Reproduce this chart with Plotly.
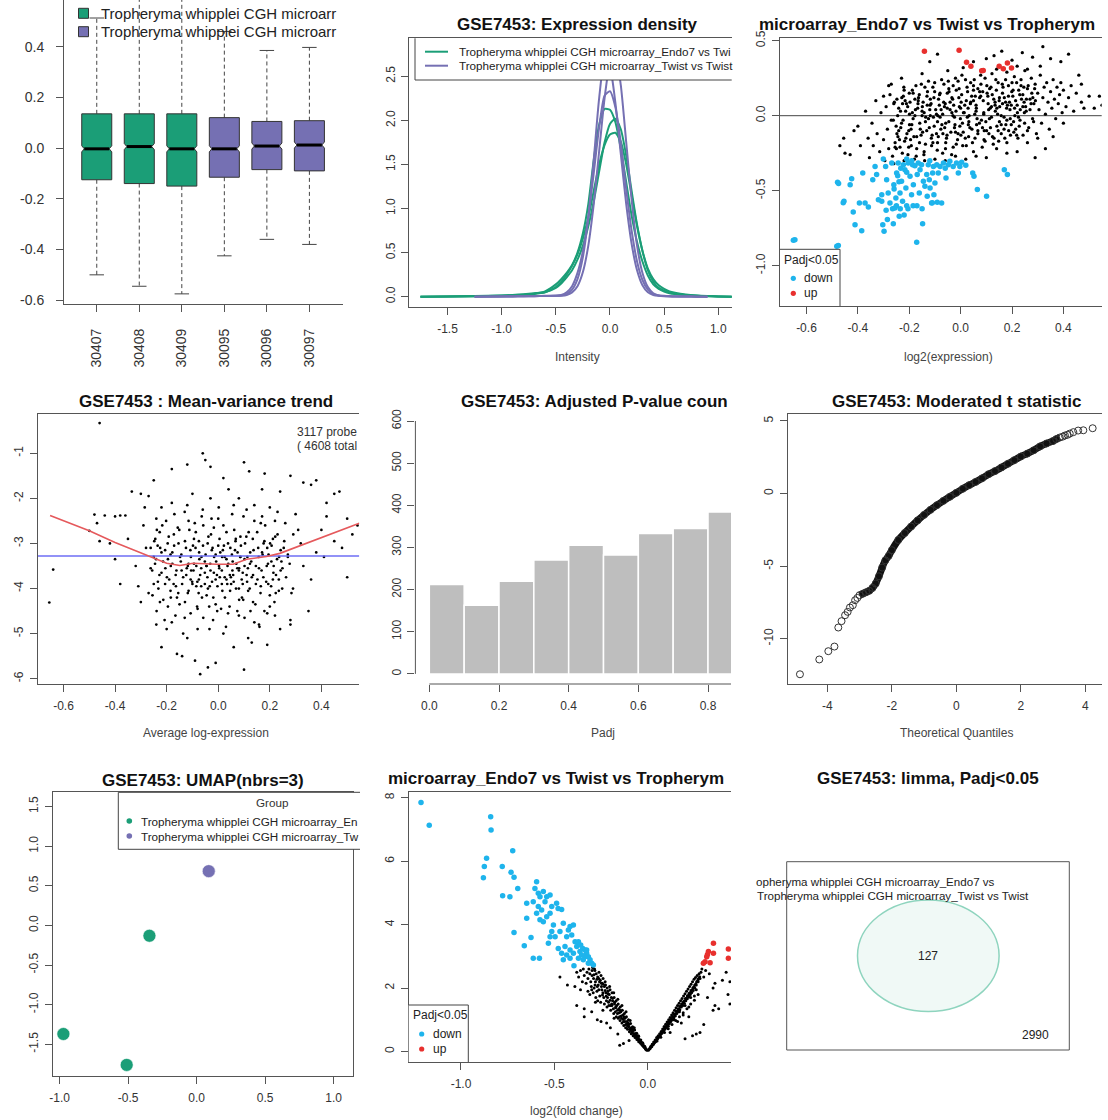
import plotly.graph_objects as go

W, H = 1108, 1120
FONT = "Liberation Sans, Arial, Helvetica, sans-serif"
GREEN, PURPLE = "#1B9E77", "#7570B3"
BLUE, RED = "#1EB4EC", "#E8302E"
AXC, TICKC, TXT = "#555555", "#333333", "#111111"

# ---------------- data ----------------
SAMPLES = ["30407", "30408", "30409", "30095", "30096", "30097"]
SAMPLE_GROUP = [0, 0, 0, 1, 1, 1]
BOX_Q1 = [-0.125, -0.14, -0.15, -0.115, -0.085, -0.09]
BOX_MED = [-0.003, 0.006, -0.003, -0.003, 0.008, 0.012]
BOX_Q3 = [0.135, 0.135, 0.135, 0.12, 0.105, 0.108]
BOX_LO = [-0.50, -0.545, -0.575, -0.425, -0.36, -0.38]
BOX_HI = [0.513, 0.63, 0.63, 0.46, 0.385, 0.397]
BOX_YTICKS = [-0.6, -0.4, -0.2, 0.0, 0.2, 0.4]

DENS_X = [-1.75, -1.5, -1.25, -1.0, -0.9, -0.8, -0.7, -0.6, -0.5, -0.45, -0.4, -0.35, -0.3, -0.25,
          -0.2, -0.15, -0.1, -0.05, 0.0, 0.05, 0.1, 0.15, 0.2, 0.25, 0.3, 0.35, 0.4, 0.45, 0.5, 0.55,
          0.6, 0.7, 0.8, 0.9, 1.0, 1.15]
DENS_G1 = [0.0, 0.003, 0.006, 0.012, 0.016, 0.022, 0.035, 0.06, 0.14, 0.2, 0.27, 0.36, 0.5, 0.72, 1.05, 1.55,
           1.95, 2.13, 2.12, 1.98, 1.68, 1.3, 0.92, 0.62, 0.4, 0.24, 0.14, 0.09, 0.06, 0.04, 0.03, 0.018,
           0.01, 0.006, 0.003, 0.0]
DENS_G2 = [0.0, 0.002, 0.005, 0.01, 0.014, 0.02, 0.03, 0.05, 0.1, 0.15, 0.22, 0.3, 0.42, 0.58, 0.8, 1.08,
           1.42, 1.75, 1.96, 2.02, 1.9, 1.6, 1.2, 0.82, 0.52, 0.3, 0.17, 0.1, 0.07, 0.05, 0.035, 0.02,
           0.012, 0.007, 0.003, 0.0]
DENS_G3 = [0.0, 0.004, 0.008, 0.015, 0.02, 0.028, 0.04, 0.05, 0.11, 0.17, 0.25, 0.35, 0.48, 0.66, 0.9, 1.2,
           1.5, 1.72, 1.84, 1.86, 1.76, 1.5, 1.15, 0.8, 0.52, 0.32, 0.2, 0.13, 0.09, 0.06, 0.045, 0.025,
           0.014, 0.008, 0.004, 0.0]
DENS_P1 = [None, None, 0.0, 0.004, 0.005, 0.006, 0.008, 0.01, 0.012, 0.02, 0.05, 0.12, 0.27, 0.52, 0.9, 1.4,
           1.92, 2.28, 2.33, 2.15, 1.75, 1.22, 0.75, 0.4, 0.19, 0.08, 0.03, 0.015, 0.01, 0.007, 0.005,
           0.003, 0.001, 0.0, None, None]
DENS_P2 = [None, None, 0.0, 0.003, 0.004, 0.005, 0.006, 0.008, 0.01, 0.015, 0.03, 0.08, 0.2, 0.45, 0.9, 1.55,
           2.25, 2.68, 2.6, 2.2, 1.62, 1.05, 0.6, 0.3, 0.13, 0.05, 0.02, 0.01, 0.006, 0.004, 0.003,
           0.002, 0.001, 0.0, None, None]
DENS_P3 = [None, None, 0.0, 0.003, 0.004, 0.005, 0.006, 0.008, 0.01, 0.012, 0.02, 0.05, 0.12, 0.28, 0.58,
           1.05, 1.65, 2.25, 2.65, 2.75, 2.4, 1.75, 1.1, 0.58, 0.27, 0.11, 0.04, 0.015, 0.008, 0.005,
           0.003, 0.002, 0.001, 0.0, None, None]
DENS_SERIES = [DENS_G1, DENS_G2, DENS_G3, DENS_P1, DENS_P2, DENS_P3]

# MA plot: (A, M)
MA_BG = [(-0.248,-0.12),(-0.241,0.05),(-0.236,-0.21),(-0.229,0.12),(-0.224,-0.03),(-0.218,-0.17),(-0.211,0.08),
 (-0.205,-0.26),(-0.199,0.01),(-0.193,-0.09),(-0.188,0.17),(-0.182,-0.14),(-0.176,0.04),(-0.171,-0.22),(-0.165,0.10),
 (-0.159,-0.05),(-0.153,0.21),(-0.148,-0.11),(-0.142,0.02),(-0.137,-0.19),(-0.131,0.13),(-0.125,-0.02),(-0.119,0.07),
 (-0.114,-0.15),(-0.108,0.19),(-0.103,-0.07),(-0.097,0.04),(-0.091,-0.23),(-0.086,0.11),(-0.080,-0.01),(-0.074,0.24),
 (-0.069,-0.12),(-0.063,0.06),(-0.058,-0.18),(-0.052,0.15),(-0.046,-0.04),(-0.041,0.09),(-0.035,-0.26),(-0.029,0.20),
 (-0.024,-0.08),(-0.018,0.03),(-0.012,-0.16),(-0.007,0.12),(-0.001,-0.02),(0.005,0.27),(0.010,-0.11),(0.016,0.07),
 (0.022,-0.20),(0.027,0.16),(0.033,0.00),(0.039,0.22),(0.044,-0.09),(0.050,0.10),(0.056,-0.15),(0.061,0.05),
 (0.067,0.18),(0.073,-0.05),(0.078,0.13),(0.084,-0.21),(0.090,0.02),(0.095,0.25),(0.101,-0.10),(0.107,0.08),
 (0.112,-0.02),(0.118,0.19),(0.124,-0.14),(0.129,0.11),(0.135,0.03),(0.141,-0.07),(0.146,0.22),(0.152,0.06),
 (0.158,-0.12),(0.163,0.15),(0.169,-0.01),(0.175,0.09),(0.180,-0.18),(0.186,0.20),(0.192,0.04),(0.197,-0.06),
 (0.203,0.13),(0.209,0.26),(0.214,-0.09),(0.220,0.07),(0.226,0.17),(0.231,-0.03),(0.237,0.11),(0.243,-0.13),
 (0.248,0.02),(-0.245,0.00),(-0.233,-0.08),(-0.221,0.19),(-0.209,-0.12),(-0.197,0.09),(-0.185,-0.02),(-0.173,-0.27),
 (-0.161,0.14),(-0.149,0.06),(-0.137,-0.04),(-0.125,0.23),(-0.113,-0.20),(-0.101,0.16),(-0.089,0.00),(-0.077,-0.09),
 (-0.065,0.21),(-0.053,-0.13),(-0.041,0.04),(-0.029,-0.21),(-0.017,0.17),(-0.005,0.06),(0.007,-0.05),(0.019,0.24),
 (0.031,-0.14),(0.043,0.13),(0.055,0.01),(0.067,-0.10),(0.079,0.21),(0.091,-0.16),(0.103,0.15),(0.115,0.05),
 (0.127,-0.19),(0.139,0.17),(0.151,-0.04),(0.163,0.08),(0.175,0.24),(0.187,-0.10),(0.199,0.16),(0.211,0.00),
 (0.223,-0.15),(0.235,0.20),(0.247,0.09),(-0.238,-0.16),(-0.214,0.03),(-0.190,-0.06),(-0.166,0.08),(-0.142,-0.24),
 (-0.118,0.11),(-0.094,-0.12),(-0.070,0.01),(-0.046,0.18),(-0.022,-0.06),(0.002,0.09),(0.026,-0.01),(0.050,-0.24),
 (0.074,0.12),(0.098,-0.04),(0.122,0.28),(0.146,-0.10),(0.170,0.12),(0.194,-0.13),(0.218,0.22),(0.242,0.06),
 (-0.226,0.08),(-0.202,-0.21),(-0.178,0.11),(-0.154,-0.13),(-0.130,0.07),(-0.106,-0.01),(-0.082,0.14),(-0.058,-0.05),
 (-0.034,0.12),(-0.010,-0.12),(0.014,0.02),(0.038,0.08),(0.062,-0.06),(0.086,0.16),(0.110,-0.12),(0.134,0.09),
 (0.158,0.00),(0.182,0.07),(0.206,-0.04),(0.230,0.14),
 (-0.47,-0.20),(-0.455,-0.15),(-0.45,-0.25),(-0.43,-0.26),(-0.415,-0.10),(-0.40,-0.07),(-0.39,-0.20),(-0.37,0.03),
 (-0.36,-0.15),(-0.355,-0.28),(-0.345,-0.05),(-0.34,-0.20),(-0.33,0.10),(-0.325,-0.12),(-0.315,-0.24),(-0.31,0.02),
 (-0.30,-0.16),(-0.295,-0.30),(-0.29,0.06),(-0.285,-0.09),(-0.28,-0.22),(-0.275,0.14),(-0.27,-0.03),(-0.265,-0.27),
 (-0.26,0.08),(-0.255,-0.18),(-0.28,0.20),(-0.30,0.13),(-0.26,-0.32),(-0.22,-0.30),(-0.18,-0.29),(-0.14,-0.30),
 (-0.10,-0.29),(-0.06,-0.30),(-0.02,-0.27),(0.02,-0.29),(0.06,-0.27),(0.10,-0.28),(0.14,-0.22),(0.18,-0.25),
 (0.22,-0.24),(0.26,-0.18),(0.30,-0.15),
 (0.255,0.03),(0.26,0.18),(0.265,-0.08),(0.27,0.11),(0.275,0.25),(0.28,-0.02),(0.285,0.08),(0.29,0.21),
 (0.295,-0.12),(0.30,0.15),(0.305,0.04),(0.31,0.27),(0.315,-0.05),(0.32,0.12),(0.325,0.19),(0.33,0.01),
 (0.335,0.22),(0.34,0.09),(0.345,-0.09),(0.35,0.16),(0.355,0.05),(0.36,0.24),(0.365,0.11),(0.37,-0.02),
 (0.375,0.19),(0.38,0.08),(0.385,0.14),(0.39,0.22),(0.395,0.02),(0.40,0.17),(0.41,0.06),(0.42,0.12),
 (0.43,0.20),(0.44,0.03),(0.45,0.15),(0.46,0.27),(0.47,0.09),(0.48,0.05),(0.50,0.13),(0.52,0.05),(0.54,0.13),
 (0.55,0.07),(0.47,0.21),(0.42,0.41),(0.39,0.36),(0.35,0.38),(0.32,0.46),(0.28,0.39),(0.24,0.42),(0.20,0.37),
 (0.16,0.43),(0.13,0.40),(0.10,0.38),(0.05,0.36),(-0.09,0.41),(-0.12,0.36),(-0.20,0.15),(-0.23,0.25),(-0.27,0.21),
 (0.31,0.33),(0.26,0.31),(0.22,0.33),(0.18,0.29),(0.14,0.31),(0.33,-0.22),(0.36,-0.14),(0.40,-0.05),(0.29,-0.28),
 (0.25,0.30),(0.08,0.30),(0.01,0.32),(-0.05,0.30),(-0.15,0.28),(-0.25,-0.22),
 (-0.262,-0.03),(-0.255,-0.21),(-0.248,0.11),(-0.241,-0.10),(-0.234,0.03),(-0.227,-0.25),(-0.220,0.17),
 (-0.213,-0.15),(-0.206,0.06),(-0.199,-0.06),(-0.192,-0.20),(-0.185,0.15),(-0.178,0.00),(-0.171,-0.14),
 (-0.164,0.12),(-0.157,-0.09),(-0.150,0.03),(-0.143,-0.26),(-0.136,-0.01),(-0.129,0.16),(-0.122,-0.08),
 (-0.115,0.08),(-0.108,-0.18),(-0.101,0.22),(-0.094,0.01),(-0.087,-0.14),(-0.080,0.15),(-0.073,-0.06),
 (-0.066,0.09),(-0.059,-0.22),(-0.052,0.05),(-0.045,0.16),(-0.038,-0.11),(-0.031,0.11),(-0.024,-0.01),
 (-0.017,-0.19),(-0.010,0.23),(-0.003,-0.07),(0.004,0.14),(0.011,0.02),(0.018,-0.15),(0.025,0.19),(0.032,-0.04),
 (0.039,0.09),(0.046,-0.18),(0.053,0.24),(0.060,0.03),(0.067,-0.12),(0.074,0.16),(0.081,-0.03),(0.088,0.10),
 (0.095,-0.17),(0.102,0.20),(0.109,0.04),(0.116,-0.08),(0.123,0.14),(0.130,-0.15),(0.137,0.24),(0.144,0.01),
 (0.151,0.12),(0.158,-0.06),(0.165,0.19),(0.172,-0.15),(0.179,0.05),(0.186,0.13),(0.193,-0.02),(0.200,0.22),
 (0.207,-0.11),(0.214,0.10),(0.221,0.02),(0.228,-0.07),(0.235,0.24),(0.242,0.14),(0.249,-0.05),(0.256,0.11),
 (0.263,0.20),(0.270,0.04),(0.277,0.15),(0.284,-0.04),(0.291,0.10),
 (-0.258,0.09),(-0.244,-0.14),(-0.230,-0.05),(-0.216,0.10),(-0.202,-0.10),(-0.188,0.02),(-0.174,0.20),
 (-0.160,-0.18),(-0.146,0.09),(-0.132,-0.10),(-0.118,0.00),(-0.104,0.12),(-0.090,-0.18),(-0.076,0.04),
 (-0.062,-0.08),(-0.048,0.23),(-0.034,0.02),(-0.020,-0.11),(-0.006,0.18),(0.008,-0.20),(0.022,0.10),
 (0.036,-0.08),(0.050,0.17),(0.064,-0.02),(0.078,0.27),(0.092,-0.10),(0.106,0.13),(0.120,-0.01),(0.134,0.07),
 (0.148,-0.17),(0.162,0.21),(0.176,-0.06),(0.190,0.09),(0.204,0.17),(0.218,-0.13),(0.232,0.04),(0.246,0.19),
 (0.260,-0.10),(0.274,0.08),(0.288,0.18),(-0.251,-0.07),(-0.223,0.13),(-0.195,-0.16),(-0.167,0.05),(-0.139,0.19),
 (-0.111,-0.13),(-0.083,0.07),(-0.055,-0.15),(-0.027,0.07),(0.001,-0.13),(0.029,0.05),(0.057,0.13),(0.085,-0.08),
 (0.113,0.18),(0.141,0.05),(0.169,-0.09),(0.197,0.07),(0.225,-0.01),(0.253,0.06),(0.281,0.12),
 (-0.15,0.00),(-0.12,0.04),(-0.09,-0.04),(-0.06,0.08),(-0.03,0.00),(0.00,0.05),(0.03,-0.06),(0.06,0.07),
 (0.09,0.01),(0.12,0.06),(0.15,0.10),(0.18,-0.03),(0.21,0.05),(0.05,0.20),(-0.02,0.25),(-0.07,-0.25)]
MA_DOWN = [(-0.651,-0.831),(-0.645,-0.827),(-0.482,-0.871),(-0.476,-0.866),(-0.479,-0.444),(-0.475,-0.452),
 (-0.457,-0.58),(-0.454,-0.57),(-0.424,-0.42),(-0.43,-0.46),(-0.418,-0.642),(-0.411,-0.727),(-0.394,-0.582),
 (-0.385,-0.767),(-0.381,-0.382),(-0.372,-0.582),(-0.359,-0.609),(-0.342,-0.427),(-0.333,-0.338),(-0.327,-0.393),
 (-0.307,-0.527),(-0.307,-0.571),(-0.303,-0.727),(-0.301,-0.289),(-0.298,-0.771),(-0.292,-0.338),(-0.288,-0.427),
 (-0.285,-0.693),(-0.282,-0.516),(-0.275,-0.582),(-0.268,-0.316),(-0.262,-0.72),(-0.259,-0.489),(-0.256,-0.616),
 (-0.252,-0.549),(-0.249,-0.382),(-0.243,-0.316),(-0.239,-0.671),(-0.236,-0.516),(-0.23,-0.438),(-0.226,-0.571),
 (-0.223,-0.327),(-0.22,-0.662),(-0.217,-0.36),(-0.213,-0.482),(-0.21,-0.289),(-0.204,-0.316),(-0.197,-0.404),
 (-0.191,-0.527),(-0.187,-0.327),(-0.184,-0.46),(-0.178,-0.333),(-0.171,-0.844),(-0.169,-0.393),(-0.165,-0.316),
 (-0.161,-0.516),(-0.158,-0.36),(-0.152,-0.327),(-0.148,-0.72),(-0.145,-0.438),(-0.139,-0.471),(-0.132,-0.393),
 (-0.13,-0.538),(-0.126,-0.327),(-0.122,-0.427),(-0.119,-0.482),(-0.113,-0.582),(-0.109,-0.382),(-0.106,-0.338),
 (-0.104,-0.527),(-0.1,-0.449),(-0.093,-0.327),(-0.091,-0.578),(-0.087,-0.382),(-0.08,-0.338),(-0.074,-0.582),
 (-0.067,-0.316),(-0.057,-0.416),(-0.048,-0.327),(-0.042,-0.304),(-0.029,-0.338),(-0.016,-0.316),(-0.009,-0.382),
 (-0.003,-0.338),(0.004,-0.311),(0.047,-0.382),(0.052,-0.404),(0.065,-0.493),(0.101,-0.538),(0.17,-0.36),
 (0.182,-0.393),(-0.233,-0.350),(-0.210,-0.378),(-0.245,-0.400),(-0.190,-0.300),(-0.240,-0.440),(-0.260,-0.460),
 (-0.210,-0.600),(-0.185,-0.600),(-0.290,-0.630),(-0.250,-0.600),(-0.205,-0.620),(-0.235,-0.620),(-0.170,-0.600),
 (-0.150,-0.620),(-0.110,-0.580),(-0.320,-0.560),(-0.265,-0.620),(-0.120,-0.300),(-0.060,-0.350),(0.020,-0.330)]
MA_UP = [(-0.141,0.429),(-0.006,0.436),(0.023,0.356),(0.04,0.329),(0.082,0.30),(0.088,0.302),(0.15,0.329),
 (0.166,0.313),(0.182,0.351),(0.198,0.318)]

# Mean-variance trend: (average log-expression, log2 sigma)
MV_BG = [(-0.262,-3.1),(-0.250,-3.9),(-0.238,-2.7),(-0.226,-4.3),(-0.214,-3.4),(-0.202,-2.5),(-0.190,-3.8),
 (-0.178,-3.2),(-0.166,-4.6),(-0.154,-3.0),(-0.142,-3.6),(-0.130,-2.3),(-0.118,-4.1),(-0.106,-3.3),(-0.094,-2.9),
 (-0.082,-4.4),(-0.070,-3.7),(-0.058,-2.6),(-0.046,-3.5),(-0.034,-4.9),(-0.022,-3.1),(-0.010,-3.8),(0.002,-2.2),
 (0.014,-3.6),(0.026,-4.2),(0.038,-3.0),(0.050,-3.9),(0.062,-2.7),(0.074,-4.5),(0.086,-3.3),(0.098,-2.4),
 (0.110,-3.7),(0.122,-4.0),(0.134,-2.9),(0.146,-3.5),(0.158,-4.8),(0.170,-3.2),(0.182,-2.6),(0.194,-3.9),
 (0.206,-3.4),(0.218,-4.3),(0.230,-2.8),(0.242,-3.6),(0.254,-3.1),
 (-0.256,-3.6),(-0.244,-2.9),(-0.232,-4.0),(-0.220,-3.2),(-0.208,-4.7),(-0.196,-3.0),(-0.184,-3.5),(-0.172,-2.8),
 (-0.160,-4.2),(-0.148,-3.3),(-0.136,-5.0),(-0.124,-3.7),(-0.112,-2.7),(-0.100,-3.9),(-0.088,-3.1),(-0.076,-4.1),
 (-0.064,-2.4),(-0.052,-3.4),(-0.040,-4.0),(-0.028,-2.8),(-0.016,-3.3),(-0.004,-4.5),(0.008,-3.2),(0.020,-2.6),
 (0.032,-3.8),(0.044,-4.4),(0.056,-3.4),(0.068,-2.9),(0.080,-3.6),(0.092,-4.2),(0.104,-3.0),(0.116,-5.1),
 (0.128,-3.4),(0.140,-2.5),(0.152,-3.8),(0.164,-4.1),(0.176,-3.0),(0.188,-3.5),(0.200,-4.4),(0.212,-2.9),
 (0.224,-3.7),(0.236,-3.3),(0.248,-4.0),
 (-0.250,-3.3),(-0.228,-3.7),(-0.206,-3.9),(-0.184,-4.2),(-0.162,-3.6),(-0.140,-3.9),(-0.118,-3.5),(-0.096,-3.6),
 (-0.074,-3.2),(-0.052,-3.9),(-0.030,-3.6),(-0.008,-3.4),(0.014,-3.9),(0.036,-3.5),(0.058,-3.7),(0.080,-4.0),
 (0.102,-3.5),(0.124,-3.2),(0.146,-3.9),(0.168,-3.6),(0.190,-3.1),(0.212,-3.8),(-0.239,-4.5),(-0.217,-2.6),
 (-0.195,-4.4),(-0.173,-3.9),(-0.151,-2.7),(-0.129,-4.3),(-0.107,-3.8),(-0.085,-3.5),(-0.063,-4.2),(-0.041,-3.0),
 (-0.019,-4.2),(0.003,-3.5),(0.025,-3.3),(0.047,-3.1),(0.069,-4.0),(0.091,-3.8),(0.113,-3.3),(0.135,-4.3),
 (0.157,-3.3),(0.179,-4.5),(0.201,-3.0),(0.223,-4.1),
 (-0.115,-3.45),(-0.098,-3.05),(-0.081,-3.85),(-0.066,-3.55),(-0.049,-3.25),(-0.033,-3.95),(-0.017,-3.65),
 (0.000,-3.05),(0.016,-4.05),(0.032,-3.35),(0.049,-3.75),(0.065,-3.15),(0.081,-3.55),(0.097,-4.25),(0.112,-3.85),
 (-0.107,-4.55),(-0.091,-2.55),(-0.075,-2.95),(-0.058,-4.65),(-0.042,-3.75),(-0.026,-2.45),(-0.010,-4.35),
 (0.006,-3.75),(0.022,-3.05),(0.038,-4.55),(0.054,-2.35),(0.070,-3.45),(0.086,-2.85),(0.102,-4.65),(0.118,-2.75),
 (-0.46,-0.33),(-0.655,-4.31),(-0.50,-2.72),(-0.48,-2.36),(-0.47,-2.55),(-0.46,-2.95),(-0.44,-2.38),(-0.40,-2.40),
 (-0.38,-2.38),(-0.36,-2.38),(-0.335,-1.85),(-0.30,-1.90),(-0.35,-2.9),(-0.40,-3.35),(-0.38,-3.90),(-0.42,-3.0),
 (-0.64,-3.58),(-0.32,-3.5),(-0.31,-3.95),(-0.30,-4.3),(-0.29,-2.6),(-0.28,-3.1),(-0.27,-4.1),(-0.285,-2.2),
 (-0.27,-1.95),(-0.25,-1.6),(-0.18,-1.35),(-0.12,-1.25),(-0.06,-1.0),(-0.05,-1.15),(-0.03,-1.3),(0.02,-1.55),
 (0.10,-1.2),(0.12,-1.4),(0.17,-1.8),(0.18,-1.45),(0.24,-1.85),(0.28,-1.5),(0.33,-1.65),(0.36,-1.7),(0.38,-1.6),
 (0.42,-2.1),(0.45,-1.9),(0.47,-1.85),(0.50,-2.45),(0.52,-2.8),(0.54,-2.6),(0.48,-3.1),(0.45,-2.95),(0.42,-2.4),
 (0.40,-2.7),(0.38,-3.2),(0.36,-3.8),(0.35,-4.5),(0.41,-3.3),(0.50,-3.75),(0.30,-2.35),(0.32,-3.0),(0.33,-3.5),
 (0.29,-4.0),(0.28,-4.7),(0.27,-3.3),(0.26,-2.55),(0.31,-2.7),(-0.22,-5.3),(-0.16,-5.45),(-0.14,-5.5),(-0.09,-5.6),
 (-0.04,-5.75),(-0.01,-5.65),(0.10,-5.8),(0.06,-5.3),(0.19,-5.25),(-0.07,-5.9),(-0.20,-4.9),(0.16,-4.85),
 (0.22,-4.6),(0.24,-4.9),(-0.24,-4.8),(0.28,-4.8),(-0.12,-5.1),(0.02,-5.0),(0.13,-5.2),(-0.18,-2.1),(-0.10,-1.9),
 (-0.03,-2.0),(0.04,-1.8),(0.08,-2.0),(0.14,-2.15),(0.20,-2.2),(0.22,-2.5),(-0.22,-2.2),(-0.24,-2.45),
 (-0.262,-3.55),(-0.255,-4.15),(-0.248,-2.95),(-0.241,-3.35),(-0.234,-3.85),(-0.227,-2.75),(-0.220,-3.65),
 (-0.213,-4.25),(-0.206,-3.15),(-0.199,-3.75),(-0.192,-2.85),(-0.185,-4.05),(-0.178,-3.45),(-0.171,-3.05),
 (-0.164,-3.95),(-0.157,-2.65),(-0.150,-4.35),(-0.143,-3.25),(-0.136,-3.75),(-0.129,-2.95),(-0.122,-3.55),
 (-0.115,-4.05),(-0.108,-3.15),(-0.101,-3.85),(-0.094,-3.45),(-0.087,-2.75),(-0.080,-4.45),(-0.073,-3.35),
 (-0.066,-3.95),(-0.059,-3.05),(-0.052,-3.65),(-0.045,-4.15),(-0.038,-2.85),(-0.031,-3.45),(-0.024,-3.85),
 (-0.017,-2.65),(-0.010,-3.25),(-0.003,-3.95),(0.004,-3.55),(0.011,-4.45),(0.018,-3.15),(0.025,-3.75),
 (0.032,-2.75),(0.039,-3.45),(0.046,-4.05),(0.053,-3.25),(0.060,-3.85),(0.067,-2.95),(0.074,-3.55),(0.081,-4.25),
 (0.088,-3.05),(0.095,-3.65),(0.102,-3.35),(0.109,-2.85),(0.116,-4.05),(0.123,-3.45),(0.130,-3.75),(0.137,-3.15),
 (0.144,-4.35),(0.151,-2.75),(0.158,-3.55),(0.165,-3.95),(0.172,-3.25),(0.179,-2.95),(0.186,-3.85),(0.193,-3.45),
 (0.200,-4.15),(0.207,-3.05),(0.214,-3.65),(0.221,-2.85),(0.228,-3.35),(0.235,-4.05),(0.242,-3.15),(0.249,-3.55),
 (0.256,-2.95),(0.263,-3.75),(0.270,-3.25),(0.277,-3.45),(0.284,-4.1),(0.291,-2.8),
 (-0.245,-3.45),(-0.225,-3.10),(-0.205,-3.55),(-0.185,-3.25),(-0.165,-3.70),(-0.145,-3.40),(-0.125,-3.10),
 (-0.105,-3.60),(-0.085,-3.95),(-0.065,-3.30),(-0.045,-3.50),(-0.025,-3.15),(-0.005,-3.70),(0.015,-3.30),
 (0.035,-3.90),(0.055,-3.60),(0.075,-3.20),(0.095,-3.90),(0.115,-3.55),(0.135,-3.70),(0.155,-3.10),(0.175,-3.75),
 (0.195,-3.25),(0.215,-3.50),(0.235,-3.80),(-0.235,-3.05),(-0.195,-3.35),(-0.155,-4.10),(-0.115,-2.50),
 (-0.075,-3.80),(-0.035,-4.40),(0.005,-2.90),(0.045,-3.70),(0.085,-3.30),(0.125,-4.50),(0.165,-2.55),(0.205,-3.95),
 (0.245,-3.40),(-0.18,-4.75),(-0.13,-4.65),(-0.08,-4.90),(-0.02,-4.70),(0.03,-4.85),(0.08,-4.60),(0.14,-4.75),
 (0.19,-4.55),(-0.17,-2.35),(-0.12,-2.15),(-0.06,-2.25),(0.00,-2.45),(0.06,-2.15),(0.11,-2.25),(0.17,-2.40),
 (0.23,-2.30)]
MV_TREND_X = [-0.652, -0.5, -0.4, -0.291, -0.2, -0.149, -0.097, -0.006, 0.058, 0.11, 0.187, 0.239, 0.394, 0.547]
MV_TREND_Y = [-2.38, -2.72, -2.98, -3.24, -3.44, -3.49, -3.44, -3.46, -3.46, -3.35, -3.29, -3.22, -2.89, -2.55]
MV_PRIOR = -3.28
MV_NOTE = ["3117 probe", "( 4608 total"]

HIST_LEFT = [0.0, 0.1, 0.2, 0.3, 0.4, 0.5, 0.6, 0.7, 0.8]
HIST_COUNTS = [212, 163, 220, 270, 305, 282, 333, 345, 384]

QQ_THEO = [-4.85, -4.25, -3.97, -3.78, -3.66, -3.56, -3.45, -3.37, -3.30, -3.21, -3.14, -3.07, -3.0,
           -2.9, -2.8, -2.7, -2.6, -2.5, -2.4, -2.3, -2.2, -2.1, -2.0, -1.8, -1.6, -1.4, -1.2, -1.0, -0.8,
           -0.6, -0.4, -0.2, 0.0, 0.2, 0.4, 0.6, 0.8, 1.0, 1.2, 1.4, 1.6, 1.8, 2.0, 2.2, 2.4, 2.6, 2.8,
           3.0, 3.1, 3.21, 3.3, 3.37, 3.45, 3.52, 3.63, 3.78, 3.94, 4.23]
QQ_SAMPLE = [-12.45, -11.43, -10.86, -10.54, -9.23, -8.79, -8.38, -8.15, -7.85, -7.69, -7.35, -7.19, -7.0,
             -6.9, -6.8, -6.7, -6.5, -6.2, -5.7, -5.1, -4.6, -4.3, -3.9, -3.2, -2.72, -2.27, -1.85, -1.47,
             -1.12, -0.8, -0.5, -0.22, 0.05, 0.33, 0.58, 0.8, 1.05, 1.33, 1.55, 1.8, 2.05, 2.3, 2.55, 2.75,
             2.98, 3.25, 3.45, 3.62, 3.75, 3.86, 3.92, 4.0, 4.05, 4.13, 4.23, 4.34, 4.36, 4.5]

UMAP_X = [-0.973, -0.511, -0.345, 0.088]
UMAP_Y = [-1.37, -1.76, -0.13, 0.685]
UMAP_GROUP = [0, 0, 0, 1]
GROUP_LABELS = ["Tropheryma whipplei CGH microarray_En", "Tropheryma whipplei CGH microarray_Tw"]

VOL_BG = [(-0.295,2.65),(-0.29,2.3),(-0.287,2.0),(-0.283,2.55),(-0.28,2.2),(-0.276,2.45),(-0.272,1.9),
 (-0.268,2.35),(-0.265,2.1),(-0.261,2.5),(-0.257,1.75),(-0.254,2.25),(-0.25,2.4),(-0.246,1.95),(-0.243,2.15),
 (-0.239,2.3),(-0.235,1.7),(-0.232,2.05),(-0.228,2.2),(-0.224,1.85),(-0.221,1.6),(-0.217,2.0),(-0.213,1.9),
 (-0.21,1.55),(-0.206,1.8),(-0.202,1.95),(-0.199,1.45),(-0.195,1.7),(-0.191,1.85),(-0.188,1.6),(-0.184,1.35),
 (-0.18,1.7),(-0.177,1.55),(-0.173,1.25),(-0.169,1.6),(-0.166,1.45),(-0.162,1.2),(-0.158,1.5),(-0.155,1.35),
 (-0.151,1.1),(-0.147,1.4),(-0.144,1.25),(-0.14,1.05),(-0.136,1.3),(-0.133,1.15),(-0.129,0.95),(-0.125,1.2),
 (-0.122,1.05),(-0.118,0.85),(-0.114,1.1),(-0.111,0.95),(-0.107,0.8),(-0.103,1.0),(-0.1,0.85),(-0.096,0.7),
 (-0.092,0.88),(-0.089,0.75),(-0.085,0.62),(-0.081,0.78),(-0.078,0.66),(-0.074,0.55),(-0.07,0.68),(-0.067,0.57),
 (-0.063,0.48),(-0.059,0.58),(-0.056,0.47),(-0.052,0.4),(-0.048,0.47),(-0.045,0.38),(-0.041,0.32),(-0.037,0.36),
 (-0.034,0.29),(-0.03,0.25),(-0.026,0.26),(-0.023,0.2),(-0.019,0.17),(-0.015,0.15),(-0.012,0.1),(-0.008,0.07),
 (-0.004,0.04),(-0.298,2.4),(-0.285,2.6),(-0.27,2.05),(-0.262,2.3),(-0.248,2.15),(-0.24,1.85),(-0.226,2.1),
 (-0.215,1.7),(-0.204,2.05),(-0.193,1.5),(-0.182,1.85),(-0.171,1.4),(-0.16,1.65),(-0.149,1.3),(-0.138,1.45),
 (-0.127,1.1),(-0.116,1.25),(-0.105,0.9),(-0.094,0.98),(-0.083,0.7),(-0.072,0.75),(-0.061,0.52),(-0.05,0.5),
 (-0.039,0.35),(-0.028,0.28),(-0.017,0.16),(-0.31,2.45),(-0.305,2.2),(-0.30,1.95),(-0.315,2.6),(-0.32,2.3),
 (-0.325,2.5),(-0.33,2.15),(-0.34,2.4),(-0.345,2.6),(-0.35,2.2),(-0.36,2.55),(-0.37,2.35),(-0.38,2.5),(-0.31,1.8),
 (-0.47,2.35),(-0.43,2.1),(-0.38,1.45),(-0.34,1.35),(-0.34,1.1),(-0.30,1.25),(-0.27,1.0),(-0.25,0.95),(-0.22,0.9),
 (-0.2,0.75),(-0.16,0.55),(-0.13,0.25),(-0.15,0.2),(-0.1,0.35),(-0.18,1.05),(-0.24,1.3),(-0.28,1.55),(-0.32,1.9),
 (-0.36,1.95),(-0.39,2.05),
 (-0.302,2.05),(-0.298,2.55),(-0.292,1.85),(-0.288,2.42),(-0.282,2.1),(-0.278,1.7),(-0.272,2.28),(-0.268,1.6),
 (-0.262,1.95),(-0.258,2.2),(-0.252,1.55),(-0.248,2.05),(-0.242,1.78),(-0.238,2.12),(-0.232,1.5),(-0.228,1.92),
 (-0.222,1.75),(-0.218,1.4),(-0.212,1.82),(-0.208,1.45),(-0.202,1.62),(-0.198,1.3),(-0.192,1.45),(-0.188,1.68),
 (-0.182,1.2),(-0.178,1.5),(-0.172,1.38),(-0.168,1.1),(-0.162,1.3),(-0.158,1.05),(-0.152,1.22),(-0.148,0.98),
 (-0.142,1.12),(-0.138,0.9),(-0.132,1.02),(-0.128,0.82),(-0.122,0.95),(-0.118,0.75),(-0.112,0.86),(-0.108,0.7),
 (-0.102,0.78),(-0.098,0.62),(-0.092,0.68),(-0.088,0.56),(-0.082,0.6),(-0.078,0.5),(-0.072,0.52),(-0.068,0.44),
 (-0.062,0.45),(-0.058,0.38),(-0.052,0.36),(-0.048,0.31),(-0.042,0.3),(-0.038,0.26),(-0.032,0.22),(-0.028,0.19),
 (-0.022,0.15),(-0.018,0.13),(-0.012,0.08),(-0.008,0.06),
 (0.004,0.04),(0.008,0.08),(0.012,0.1),(0.016,0.16),(0.02,0.17),(0.024,0.23),(0.028,0.24),(0.032,0.3),
 (0.036,0.28),(0.04,0.36),(0.044,0.35),(0.048,0.44),(0.052,0.41),(0.056,0.5),(0.06,0.46),(0.064,0.56),
 (0.068,0.52),(0.072,0.63),(0.076,0.58),(0.08,0.71),(0.084,0.64),(0.088,0.79),(0.092,0.7),(0.096,0.86),
 (0.1,0.76),(0.104,0.93),(0.108,0.82),(0.112,1.0),(0.116,0.88),(0.12,1.07),(0.124,0.95),(0.128,1.15),
 (0.132,1.0),(0.136,1.22),(0.14,1.06),(0.144,1.3),(0.148,1.12),(0.152,1.38),(0.156,1.2),(0.16,1.45),
 (0.164,1.26),(0.168,1.52),(0.172,1.32),(0.176,1.6),(0.18,1.4),(0.184,1.67),(0.188,1.45),(0.192,1.75),
 (0.196,1.52),(0.2,1.82),(0.204,1.6),(0.208,1.9),(0.212,1.66),(0.216,1.97),(0.22,1.72),(0.224,2.05),
 (0.228,1.8),(0.232,2.12),(0.236,1.86),(0.24,2.2),(0.244,1.92),(0.248,2.28),(0.252,2.0),(0.256,2.33),
 (0.26,2.1),(0.265,2.4),(0.27,2.2),(0.275,2.45),(0.28,2.3),(0.285,2.5),(0.29,2.6),(0.05,0.33),(0.07,0.45),
 (0.09,0.6),(0.11,0.72),(0.13,0.85),(0.15,0.98),(0.17,1.1),(0.19,1.22),(0.21,1.35),(0.23,1.5),(0.25,1.62),
 (0.27,1.8),(0.12,0.6),(0.18,0.9),(0.22,1.1),(0.26,0.55),(0.3,0.85),(0.32,1.7),(0.35,2.0),(0.36,2.15),
 (0.35,1.3),(0.36,1.45),(0.38,1.35),(0.43,1.8),(0.44,2.2),(0.44,1.5),(0.42,2.5),(0.4,2.25),(0.3,2.35),
 (0.31,2.55),(0.33,2.45),(0.28,0.6),(0.24,0.5),(0.2,0.4),(0.46,1.45),
 (0.012,0.09),(0.018,0.14),(0.022,0.16),(0.028,0.21),(0.032,0.24),(0.038,0.3),(0.042,0.31),(0.048,0.38),
 (0.052,0.4),(0.058,0.45),(0.062,0.49),(0.068,0.55),(0.072,0.57),(0.078,0.62),(0.082,0.66),(0.088,0.7),
 (0.092,0.76),(0.098,0.78),(0.102,0.84),(0.108,0.86),(0.112,0.93),(0.118,0.94),(0.122,1.0),(0.128,1.02),
 (0.132,1.09),(0.138,1.1),(0.142,1.17),(0.148,1.18),(0.152,1.26),(0.158,1.27),(0.162,1.34),(0.168,1.35),
 (0.172,1.42),(0.178,1.44),(0.182,1.5),(0.188,1.52),(0.192,1.58),(0.198,1.6),(0.202,1.67),(0.208,1.68),
 (0.212,1.75),(0.218,1.77),(0.222,1.84),(0.228,1.86),(0.232,1.92),(0.238,1.95),(0.242,2.01),(0.248,2.04),
 (0.252,2.1),(0.258,2.14),(0.262,2.2),(0.268,2.25),(0.272,2.3),(0.278,2.36),(0.11,0.8),(0.14,1.0),(0.17,1.25),
 (0.2,1.45),(0.23,1.7),(0.26,1.95),(0.16,0.95),(0.19,1.15),(0.22,1.4),(0.25,1.75)]
VOL_DOWN = [(-1.214,7.85),(-1.17,7.13),(-0.841,7.40),(-0.839,6.98),(-0.723,6.33),(-0.863,6.09),(-0.875,5.83),
 (-0.88,5.48),(-0.779,5.83),(-0.732,5.65),(-0.716,5.49),(-0.696,5.14),(-0.777,4.91),(-0.738,4.88),(-0.716,3.75),
 (-0.661,3.33),(-0.648,4.20),(-0.648,4.67),(-0.625,3.59),(-0.613,2.94),(-0.580,2.94),(-0.613,4.72),(-0.595,5.35),
 (-0.604,5.14),(-0.586,4.99),(-0.577,4.88),(-0.559,5.04),(-0.541,4.88),(-0.523,4.93),(-0.586,4.57),(-0.568,4.46),
 (-0.55,4.72),(-0.595,4.36),(-0.577,4.15),(-0.559,4.09),(-0.541,4.25),(-0.523,4.36),(-0.514,4.57),(-0.488,4.67),
 (-0.48,4.51),(-0.461,4.48),(-0.505,3.99),(-0.514,3.78),(-0.523,3.62),(-0.496,3.62),(-0.532,3.41),(-0.47,3.78),
 (-0.452,4.04),(-0.434,3.62),(-0.425,3.83),(-0.416,3.94),(-0.398,3.99),(-0.407,3.67),(-0.389,3.46),(-0.479,3.25),
 (-0.461,3.10),(-0.443,3.31),(-0.434,3.04),(-0.416,3.20),(-0.398,3.10),(-0.38,3.31),(-0.371,3.46),(-0.359,3.36),
 (-0.348,3.25),(-0.336,3.20),(-0.327,3.10),(-0.318,2.99),(-0.309,2.89),(-0.3,2.78),(-0.291,2.73),(-0.336,2.99),
 (-0.354,3.04),(-0.345,2.89),(-0.371,2.94),(-0.395,2.70),(-0.416,2.94),(-0.452,2.89),(-0.318,2.78),(-0.327,3.2),
 (-0.363,3.15)]
VOL_UP = [(0.352,3.41),(0.325,3.15),(0.352,3.10),(0.316,2.99),(0.307,2.83),(0.298,2.78),(0.334,2.80),
 (0.432,3.23),(0.432,2.94),(0.32,3.06)]

VENN_LABEL = ["opheryma whipplei CGH microarray_Endo7 vs", "Tropheryma whipplei CGH microarray_Twist vs Twist"]
VENN_IN, VENN_OUT = 127, 2990

# ---------------- helpers ----------------
def px(x):
    return x / W

def py(y):
    return 1 - y / H

fig = go.Figure()
layout = {}

def axis_pair(n, box, xr, yr, xt, xtt, yt, ytt, xframe=True, ymirror=False, xangle=0, yangle=-90,
              fs=12, xstand=4, ystand=2, lines=True):
    l, t, r, b = box
    sx = "" if n == 1 else str(n)
    common = dict(showgrid=False, zeroline=False, ticks="outside", ticklen=7, tickwidth=1, tickcolor=AXC,
                  linecolor=AXC, linewidth=1, tickmode="array", fixedrange=True, automargin=False,
                  tickfont=dict(family=FONT, size=fs, color=TICKC))
    layout["xaxis" + sx] = dict(common, domain=[px(l), px(r)], range=xr, tickvals=xt, ticktext=xtt,
                                tickangle=xangle, showline=lines, mirror=xframe and lines,
                                anchor="y" + sx, ticklabelstandoff=xstand)
    layout["yaxis" + sx] = dict(common, domain=[py(b), py(t)], range=yr, tickvals=yt, ticktext=ytt,
                                tickangle=yangle, showline=lines, mirror=ymirror and lines,
                                anchor="x" + sx, ticklabelstandoff=ystand)

def fmt(vals, d=1):
    return [f"{v:.{d}f}" for v in vals]

annotations = []
shapes = []

def text(s, x, y, size=12, color=TXT, bold=False, xanchor="center", yanchor="middle", angle=0):
    annotations.append(dict(text=f"<b>{s}</b>" if bold else s, x=px(x), y=py(y), xref="paper",
                            yref="paper", showarrow=False, xanchor=xanchor, yanchor=yanchor,
                            textangle=angle, font=dict(family=FONT, size=size, color=color)))

def pline(x0, y0, x1, y1, color=AXC, width=1):
    shapes.append(dict(type="line", xref="paper", yref="paper", x0=px(x0), y0=py(y0), x1=px(x1),
                       y1=py(y1), line=dict(color=color, width=width), layer="above"))

def pdot(x, y, color, r=2.6):
    shapes.append(dict(type="circle", xref="paper", yref="paper", x0=px(x - r), x1=px(x + r),
                       y0=py(y + r), y1=py(y - r), fillcolor=color, line=dict(width=0), layer="above"))

def prect(x0, y0, x1, y1, fill="white"):
    shapes.append(dict(type="rect", xref="paper", yref="paper", x0=px(x0), y0=py(y1), x1=px(x1),
                       y1=py(y0), fillcolor=fill, line=dict(width=0), layer="above"))

def scat(pts, ax, color, size):
    fig.add_trace(go.Scatter(x=[p[0] for p in pts], y=[p[1] for p in pts], mode="markers", xaxis="x" + ax,
                             yaxis="y" + ax, marker=dict(color=color, size=size, line=dict(width=0)),
                             hoverinfo="skip"))

# ---------------- panel 1: boxplot ----------------
axis_pair(1, (64, 0, 343, 304), [0.23, 6.79], [-0.615, 0.584],
          list(range(1, 7)), SAMPLES, BOX_YTICKS, fmt(BOX_YTICKS), xframe=False, xangle=-90, yangle=0,
          fs=14, xstand=11, ystand=9)
HW, IND, NH, CAP = 0.353, 0.06, 0.012, 0.17
for i in range(len(SAMPLES)):
    c = i + 1
    col = GREEN if SAMPLE_GROUP[i] == 0 else PURPLE
    q1, md, q3 = BOX_Q1[i], BOX_MED[i], BOX_Q3[i]
    fig.add_trace(go.Scatter(x=[c, c, None, c, c], y=[q3, BOX_HI[i], None, q1, BOX_LO[i]], mode="lines",
                             xaxis="x", yaxis="y", line=dict(color="#444", width=1, dash="4px,3px"),
                             hoverinfo="skip"))
    fig.add_trace(go.Scatter(x=[c - CAP, c + CAP, None, c - CAP, c + CAP],
                             y=[BOX_HI[i], BOX_HI[i], None, BOX_LO[i], BOX_LO[i]], mode="lines",
                             xaxis="x", yaxis="y", line=dict(color="#444", width=1), hoverinfo="skip"))
    bx = [c - HW, c - HW, c - HW + IND, c - HW, c - HW, c + HW, c + HW, c + HW - IND, c + HW, c + HW, c - HW]
    by = [q1, md - NH, md, md + NH, q3, q3, md + NH, md, md - NH, q1, q1]
    fig.add_trace(go.Scatter(x=bx, y=by, mode="lines", fill="toself", fillcolor=col, xaxis="x", yaxis="y",
                             line=dict(color="#333", width=1), hoverinfo="skip"))
    fig.add_trace(go.Scatter(x=[c - HW + IND, c + HW - IND], y=[md, md], mode="lines", xaxis="x", yaxis="y",
                             line=dict(color="black", width=3), hoverinfo="skip"))
for k, (col, yy) in enumerate([(GREEN, 13.3), (PURPLE, 31.7)]):
    shapes.append(dict(type="rect", xref="paper", yref="paper", x0=px(78.5), x1=px(88.5), y0=py(yy + 5),
                       y1=py(yy - 5), fillcolor=col, line=dict(color="#333", width=1), layer="above"))
    text("Tropheryma whipplei CGH microarr", 99, yy, size=15, color="#222", xanchor="left")

# ---------------- panel 2: density ----------------
DT = [-1.5, -1.0, -0.5, 0.0, 0.5, 1.0]
DY = [0.0, 0.5, 1.0, 1.5, 2.0, 2.5]
axis_pair(2, (409.3, 37.7, 731.7, 306.7), [-1.853, 1.124], [-0.113, 2.938], DT, fmt(DT), DY, fmt(DY))
for k, ser in enumerate(DENS_SERIES):
    fig.add_trace(go.Scatter(x=DENS_X, y=ser, mode="lines", xaxis="x2", yaxis="y2",
                             line=dict(color=GREEN if k < 3 else PURPLE, width=2, shape="spline",
                                       smoothing=0.6), hoverinfo="skip"))
prect(415, 38.3, 731.7, 80)
pline(415, 38.3, 415, 80, "#444")
pline(415, 80, 731.7, 80, "#444")
pline(425, 51.7, 448, 51.7, GREEN, 2)
pline(425, 65.7, 448, 65.7, PURPLE, 2)
text("Tropheryma whipplei CGH microarray_Endo7 vs Twi", 457, 51.7, size=11.7, color="#222", xanchor="left")
text("Tropheryma whipplei CGH microarray_Twist vs Twist", 457, 65.7, size=11.7, color="#222", xanchor="left")
text("GSE7453: Expression density", 577.5, 24, size=17, bold=True)
text("Intensity", 577, 356.7, size=12, color="#444")

# ---------------- panel 3: MA plot ----------------
MX = [-0.6, -0.4, -0.2, 0.0, 0.2, 0.4]
MY = [-1.0, -0.5, 0.0, 0.5]
axis_pair(3, (780, 37.7, 1101.7, 306), [-0.703, 0.549], [-1.269, 0.52], MX, fmt(MX), MY, fmt(MY))
shapes.append(dict(type="line", xref="x3 domain", yref="y3", x0=0, x1=1, y0=0, y1=0,
                   line=dict(color="#444", width=1), layer="below"))
scat(MA_BG, "3", "black", 3.3)
scat(MA_DOWN, "3", BLUE, 5.5)
scat(MA_UP, "3", RED, 5.5)
prect(780, 249.3, 840, 306)
pline(780, 249.3, 840, 249.3, "#444")
pline(840, 249.3, 840, 306, "#444")
text("Padj<0.05", 782, 260, size=12, color="#222", xanchor="left")
pdot(793.3, 278.3, BLUE)
pdot(793.3, 293.3, RED)
text("down", 802, 278.3, size=12, color="#222", xanchor="left")
text("up", 802, 293.3, size=12, color="#222", xanchor="left")
text("microarray_Endo7 vs Twist vs Tropherym", 756.7, 24, size=17, bold=True, xanchor="left")
text("log2(expression)", 948.3, 356.7, size=12, color="#444")

# ---------------- panel 4: mean-variance ----------------
VX = [-0.6, -0.4, -0.2, 0.0, 0.2, 0.4]
VY = [-6, -5, -4, -3, -2, -1]
axis_pair(4, (37.7, 414.3, 359.3, 684), [-0.700, 0.547], [-6.118, -0.135], VX, fmt(VX), VY,
          [str(v) for v in VY])
scat(MV_BG, "4", "black", 2.7)
fig.add_trace(go.Scatter(x=[-0.700, 0.547], y=[MV_PRIOR, MV_PRIOR], mode="lines", xaxis="x4", yaxis="y4",
                         line=dict(color="#6E6EF5", width=1.6), hoverinfo="skip"))
fig.add_trace(go.Scatter(x=MV_TREND_X, y=MV_TREND_Y, mode="lines", xaxis="x4", yaxis="y4",
                         line=dict(color="#E5595C", width=1.6), hoverinfo="skip"))
text(MV_NOTE[0], 359, 431.7, size=12, color="#333", xanchor="right")
text(MV_NOTE[1], 359, 446, size=12, color="#333", xanchor="right")
text("GSE7453 : Mean-variance trend", 205.8, 401.7, size=17, bold=True)
text("Average log-expression", 206, 733.3, size=12, color="#444")

# ---------------- panel 5: histogram ----------------
HX = [0.0, 0.2, 0.4, 0.6, 0.8]
HY = [0, 100, 200, 300, 400, 500, 600]
axis_pair(5, (415.4, 410.9, 731, 684), [-0.04, 0.866], [-24, 624], HX, fmt(HX), HY, [str(v) for v in HY],
          lines=False)
fig.add_trace(go.Bar(x=[v + 0.05 for v in HIST_LEFT], y=HIST_COUNTS, width=0.1, xaxis="x5", yaxis="y5",
                     marker=dict(color="#BEBEBE", line=dict(color="white", width=1.5)), hoverinfo="skip"))
shapes.append(dict(type="line", xref="x5 domain", yref="y5", x0=0, x1=0, y0=0, y1=600,
                   line=dict(color=AXC, width=1)))
shapes.append(dict(type="line", xref="x5", yref="y5 domain", x0=0, x1=0.866, y0=0, y1=0,
                   line=dict(color=AXC, width=1)))
text("GSE7453: Adjusted P-value coun", 459.3, 401.7, size=17, bold=True, xanchor="left")
text("Padj", 603.3, 733, size=12, color="#444")

# ---------------- panel 6: QQ ----------------
QX = [-4, -2, 0, 2, 4]
QY = [-10, -5, 0, 5]
axis_pair(6, (787.7, 414.3, 1101.7, 684), [-5.23, 4.51], [-13.12, 5.46], QX, [str(v) for v in QX], QY,
          [str(v) for v in QY])
dense = [(a, b) for a, b in zip(QQ_THEO, QQ_SAMPLE) if -3.05 <= a <= 3.25]
fig.add_trace(go.Scatter(x=[d[0] for d in dense], y=[d[1] for d in dense], mode="lines", xaxis="x6",
                         yaxis="y6", line=dict(color="#111", width=7, shape="spline", smoothing=0.5),
                         hoverinfo="skip"))
fig.add_trace(go.Scatter(x=QQ_THEO, y=QQ_SAMPLE, mode="markers", xaxis="x6", yaxis="y6",
                         marker=dict(symbol="circle-open", size=7, color="#333", line=dict(width=1)),
                         hoverinfo="skip"))
text("GSE7453: Moderated t statistic", 956.3, 401.7, size=17, bold=True)
text("Theoretical Quantiles", 956.7, 733, size=12, color="#444")

# ---------------- panel 7: UMAP ----------------
UX = [-1.0, -0.5, 0.0, 0.5, 1.0]
UY = [-1.5, -1.0, -0.5, 0.0, 0.5, 1.0, 1.5]
axis_pair(7, (52.7, 792.3, 353.3, 1076), [-1.051, 1.143], [-1.90, 1.68], UX, fmt(UX), UY, fmt(UY),
          ymirror=True)
fig.add_trace(go.Scatter(x=UMAP_X, y=UMAP_Y, mode="markers", xaxis="x7", yaxis="y7",
                         marker=dict(size=13, color=[GREEN if g == 0 else PURPLE for g in UMAP_GROUP],
                                     line=dict(color="rgba(255,255,255,0.6)", width=1)), hoverinfo="skip"))
prect(118.3, 792.3, 360, 849.3)
pline(118.3, 792.3, 118.3, 849.3, "#444")
pline(118.3, 849.3, 360, 849.3, "#444")
pline(118.3, 792.3, 360, 792.3, "#444")
text("Group", 272.7, 802.3, size=11.7, color="#333")
pdot(129.3, 821, GREEN, 2.8)
pdot(129.3, 836, PURPLE, 2.8)
text(GROUP_LABELS[0], 139, 821, size=11.7, color="#222", xanchor="left")
text(GROUP_LABELS[1], 139, 836, size=11.7, color="#222", xanchor="left")
text("GSE7453: UMAP(nbrs=3)", 202.5, 780, size=17, bold=True)

# ---------------- panel 8: volcano ----------------
OX = [-1.0, -0.5, 0.0]
OY = [0, 2, 4, 6, 8]
axis_pair(8, (408.7, 792.3, 731, 1062), [-1.28, 0.446], [-0.33, 8.17], OX, fmt(OX), OY, [str(v) for v in OY])
scat(VOL_BG, "8", "black", 3.0)
scat(VOL_DOWN, "8", BLUE, 5.5)
scat(VOL_UP, "8", RED, 5.5)
prect(408.7, 1005, 468.3, 1062)
pline(408.7, 1005, 468.3, 1005, "#444")
pline(468.3, 1005, 468.3, 1062, "#444")
text("Padj<0.05", 411, 1015, size=12, color="#222", xanchor="left")
pdot(421.7, 1034, BLUE)
pdot(421.7, 1049, RED)
text("down", 430.5, 1034, size=12, color="#222", xanchor="left")
text("up", 430.5, 1049, size=12, color="#222", xanchor="left")
text("microarray_Endo7 vs Twist vs Tropherym", 386, 778.3, size=17, bold=True, xanchor="left")
text("log2(fold change)", 576.7, 1111, size=12, color="#444")

# ---------------- panel 9: Venn ----------------
shapes.append(dict(type="rect", xref="paper", yref="paper", x0=px(786.7), x1=px(1069.3), y0=py(1050),
                   y1=py(861.7), line=dict(color="#555", width=1), fillcolor="rgba(0,0,0,0)"))
shapes.append(dict(type="circle", xref="paper", yref="paper", x0=px(928.3 - 70.8), x1=px(928.3 + 70.8),
                   y0=py(955.7 + 55.8), y1=py(955.7 - 55.8), fillcolor="#F0F9F6",
                   line=dict(color="#8ED4BE", width=1.5)))
text(VENN_LABEL[0], 754, 881, size=11.6, color="#222", xanchor="left")
text(VENN_LABEL[1], 893, 895, size=11.6, color="#222")
text(str(VENN_IN), 928.3, 956, size=12, color="#222")
text(str(VENN_OUT), 1035.7, 1035, size=12, color="#222")
text("GSE7453: limma, Padj<0.05", 927.5, 778.3, size=17, bold=True)

fig.update_layout(width=W, height=H, margin=dict(l=0, r=0, t=0, b=0, pad=0, autoexpand=False),
                  paper_bgcolor="white", plot_bgcolor="rgba(0,0,0,0)", showlegend=False,
                  annotations=annotations, shapes=shapes, **layout)
fig.write_html("out.html", include_plotlyjs=True, config={"displayModeBar": False})
